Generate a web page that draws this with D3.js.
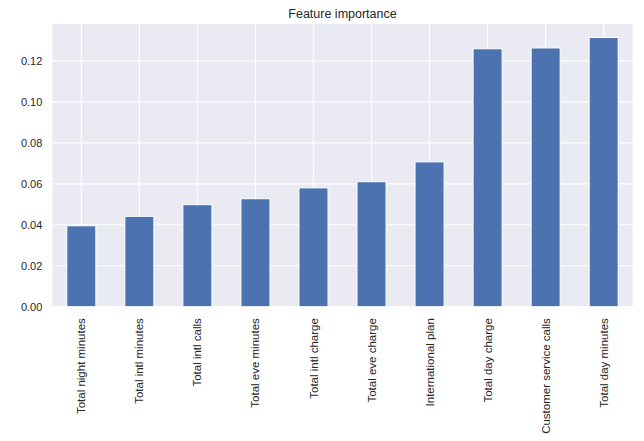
<!DOCTYPE html>
<html>
<head>
<meta charset="utf-8">
<script src="https://cdn.jsdelivr.net/npm/d3@7"></script>
<style>
  html, body { margin: 0; padding: 0; background: #ffffff; }
  svg { display: block; font-family: "Liberation Sans", Arial, sans-serif; }
</style>
</head>
<body>
<svg id="chart" width="644" height="441"></svg>
<script>
const categories = [
  "Total night minutes", "Total intl minutes", "Total intl calls",
  "Total eve minutes", "Total intl charge", "Total eve charge",
  "International plan", "Total day charge", "Customer service calls",
  "Total day minutes"
];
const importance = [0.0395, 0.0441, 0.0498, 0.0527, 0.0580, 0.0610, 0.0707, 0.1259, 0.1263, 0.1314];
const yTicks = [0.00, 0.02, 0.04, 0.06, 0.08, 0.10, 0.12];
const yMax = 0.138;
const title = "Feature importance";

const svg = d3.select("#chart");
const m = { left: 52.3, right: 632.7, top: 24, bottom: 306.7 };

const x = d3.scaleBand().domain(categories).range([m.left, m.right])
  .paddingInner(0.5).paddingOuter(0.25);
const y = d3.scaleLinear().domain([0, yMax]).range([m.bottom, m.top]);

// background
svg.append("rect").attr("x", m.left).attr("y", m.top)
  .attr("width", m.right - m.left).attr("height", m.bottom - m.top)
  .attr("fill", "#EAEAF2");

// grid
const g = svg.append("g");
g.selectAll("line.hy").data(yTicks).join("line")
  .attr("x1", m.left).attr("x2", m.right)
  .attr("y1", d => y(d)).attr("y2", d => y(d))
  .attr("stroke", "#ffffff").attr("stroke-width", 1.2);
g.selectAll("line.vx").data(categories).join("line")
  .attr("y1", m.top).attr("y2", m.bottom)
  .attr("x1", d => x(d) + x.bandwidth() / 2).attr("x2", d => x(d) + x.bandwidth() / 2)
  .attr("stroke", "#ffffff").attr("stroke-width", 1.2);

// bars
svg.append("g").selectAll("rect").data(categories).join("rect")
  .attr("x", d => x(d))
  .attr("width", x.bandwidth())
  .attr("y", (d, i) => y(importance[i]))
  .attr("height", (d, i) => y(0) - y(importance[i]))
  .attr("fill", "#4C72B0")
  .attr("stroke", "#ffffff").attr("stroke-width", 1);

// y axis
const yAxis = d3.axisLeft(y).tickValues(yTicks).tickFormat(d3.format(".2f")).tickSize(0).tickPadding(10);
const ya = svg.append("g").attr("transform", `translate(${m.left},0)`).call(yAxis);
ya.select(".domain").remove();
ya.selectAll("text").attr("font-size", 11).attr("fill", "#262626")
  .attr("font-family", "Liberation Sans, Arial, sans-serif");

// x axis
const xAxis = d3.axisBottom(x).tickSize(0).tickPadding(10);
const xa = svg.append("g").attr("transform", `translate(0,${m.bottom})`).call(xAxis);
xa.select(".domain").remove();
xa.selectAll("text")
  .attr("font-size", 11.5).attr("fill", "#262626")
  .attr("font-family", "Liberation Sans, Arial, sans-serif")
  .attr("transform", "rotate(-90)")
  .attr("text-anchor", "end")
  .attr("dy", "0.35em")
  .attr("y", 0)
  .attr("x", -11.5);

// title
svg.append("text").attr("x", (m.left + m.right) / 2).attr("y", 18)
  .attr("text-anchor", "middle").attr("font-size", 12.5).attr("fill", "#262626")
  .text(title);
</script>
</body>
</html>
